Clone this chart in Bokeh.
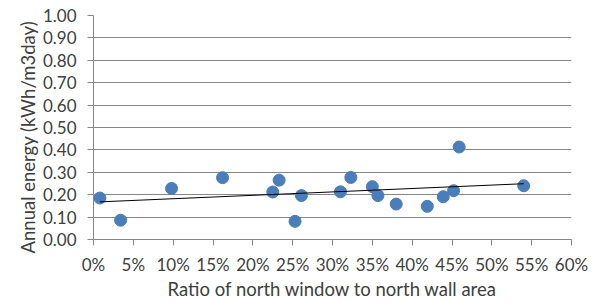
from bokeh.plotting import figure
from bokeh.embed import file_html
from bokeh.resources import INLINE
from bokeh.models import NumeralTickFormatter, FixedTicker, Range1d, Title

# data
ratio = [0.008, 0.034, 0.098, 0.162, 0.225, 0.233, 0.253, 0.261, 0.310, 0.323,
         0.350, 0.357, 0.380, 0.419, 0.439, 0.452, 0.459, 0.540]
energy = [0.185, 0.086, 0.228, 0.276, 0.212, 0.265, 0.081, 0.196, 0.213, 0.277,
          0.236, 0.196, 0.158, 0.148, 0.191, 0.218, 0.413, 0.240]
trend_x = [0.008, 0.540]
trend_y = [0.168, 0.249]
x_ticks = [0.0, 0.05, 0.10, 0.15, 0.20, 0.25, 0.30, 0.35, 0.40, 0.45, 0.50, 0.55, 0.60]
y_ticks = [0.0, 0.1, 0.2, 0.3, 0.4, 0.5, 0.6, 0.7, 0.8, 0.9, 1.0]
x_title = "Ratio of north window to north wall area"
y_title = "Annual energy (kWh/m3day)"

FONT = "Lato"
GRID = "#868686"
TXT = "#404040"

p = figure(width=597, height=302, output_backend="svg", toolbar_location=None,
           x_range=Range1d(0, 0.6), y_range=Range1d(0, 1.0),
           min_border_left=93, min_border_right=26, min_border_top=15, min_border_bottom=62)
p.outline_line_color = None

p.xaxis.ticker = FixedTicker(ticks=x_ticks)
p.yaxis.ticker = FixedTicker(ticks=y_ticks)
p.xaxis.formatter = NumeralTickFormatter(format="0%")
p.yaxis.formatter = NumeralTickFormatter(format="0.00")

for ax in (p.xaxis, p.yaxis):
    ax.axis_line_color = GRID
    ax.major_tick_line_color = GRID
    ax.major_tick_in = 0
    ax.major_tick_out = 6
    ax.minor_tick_line_color = None
    ax.major_label_text_font = FONT
    ax.major_label_text_font_size = "17px"
    ax.major_label_text_color = TXT

p.xaxis.major_label_standoff = 8
p.yaxis.major_label_standoff = 11
p.xaxis.axis_label = x_title
p.xaxis.axis_label_text_font = FONT
p.xaxis.axis_label_text_font_size = "18.5px"
p.xaxis.axis_label_text_font_style = "normal"
p.xaxis.axis_label_text_color = TXT
p.xaxis.axis_label_standoff = 0

ytitle = Title(text=y_title, align="left", offset=-14,
               text_font=FONT, text_font_size="18.5px", text_font_style="normal",
               text_color=TXT, standoff=2)
p.add_layout(ytitle, "left")

p.xgrid.grid_line_color = None
p.ygrid.grid_line_color = GRID
p.ygrid.grid_line_width = 1

p.scatter(ratio, energy, size=12, fill_color="#4A7EBB", line_color="#4A7EBB")
p.line(trend_x, trend_y, line_color="black", line_width=1)

open("out.html", "w").write(file_html(p, INLINE))
